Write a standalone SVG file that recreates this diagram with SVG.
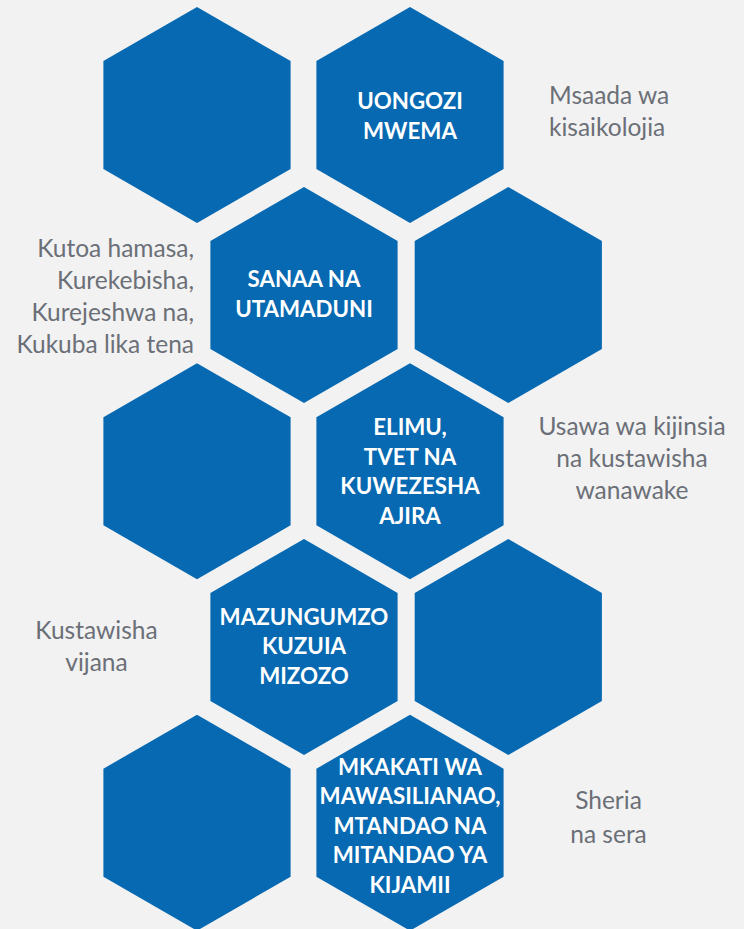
<svg xmlns="http://www.w3.org/2000/svg" width="744" height="929" viewBox="0 0 744 929">
<defs>
<style>
.hex{fill:#0769b1}
.lbl{font-family:Lato,"Open Sans","Liberation Sans",sans-serif;font-weight:700;font-size:22.3px;fill:#ffffff;text-anchor:middle}
.side{font-family:Lato,"Open Sans","Liberation Sans",sans-serif;font-weight:400;font-size:24.5px;fill:#6b6f77}
</style>
<polygon id="h" points="0,-108 93.6,-54 93.6,54 0,108 -93.6,54 -93.6,-54"/>
</defs>
<rect width="744" height="929" fill="#f2f2f2"/>
<g id="hex-r1-left"><use href="#h" class="hex" x="197" y="115"/></g>
<g id="hex-uongozi"><use href="#h" class="hex" x="410" y="115"/>
<text class="lbl"><tspan x="410" y="109">UONGOZI</tspan><tspan x="410" y="139">MWEMA</tspan></text></g>
<g id="hex-sanaa"><use href="#h" class="hex" x="304" y="295"/>
<text class="lbl"><tspan x="304" y="287">SANAA NA</tspan><tspan x="304" y="317">UTAMADUNI</tspan></text></g>
<g id="hex-r2-right"><use href="#h" class="hex" x="508.3" y="295"/></g>
<g id="hex-r3-left"><use href="#h" class="hex" x="197" y="471.3"/></g>
<g id="hex-elimu"><use href="#h" class="hex" x="410" y="471.3"/>
<text class="lbl"><tspan x="410" y="435">ELIMU,</tspan><tspan x="410" y="464.5">TVET NA</tspan><tspan x="410" y="494">KUWEZESHA</tspan><tspan x="410" y="523.5">AJIRA</tspan></text></g>
<g id="hex-mazungumzo"><use href="#h" class="hex" x="304" y="647"/>
<text class="lbl"><tspan x="304" y="624.5">MAZUNGUMZO</tspan><tspan x="304" y="654">KUZUIA</tspan><tspan x="304" y="683.5">MIZOZO</tspan></text></g>
<g id="hex-r4-right"><use href="#h" class="hex" x="508.3" y="647"/></g>
<g id="hex-r5-left"><use href="#h" class="hex" x="197" y="822.7"/></g>
<g id="hex-mkakati"><use href="#h" class="hex" x="410" y="822.7"/>
<text class="lbl"><tspan x="410" y="775">MKAKATI WA</tspan><tspan x="410" y="804.3">MAWASILIANAO,</tspan><tspan x="410" y="833.6">MTANDAO NA</tspan><tspan x="410" y="863">MITANDAO YA</tspan><tspan x="410" y="892.5">KIJAMII</tspan></text></g>
<g id="notes">
<text class="side"><tspan x="549" y="103.5">Msaada wa</tspan><tspan x="549" y="135.5">kisaikolojia</tspan></text>
<text class="side" text-anchor="end"><tspan x="194" y="257">Kutoa hamasa,</tspan><tspan x="194" y="289">Kurekebisha,</tspan><tspan x="194" y="321">Kurejeshwa na,</tspan><tspan x="194" y="353">Kukuba lika tena</tspan></text>
<text class="side" text-anchor="middle"><tspan x="632" y="435">Usawa wa kijinsia</tspan><tspan x="632" y="467">na kustawisha</tspan><tspan x="632" y="499">wanawake</tspan></text>
<text class="side" text-anchor="middle"><tspan x="96.5" y="638.5">Kustawisha</tspan><tspan x="96.5" y="670.5">vijana</tspan></text>
<text class="side" text-anchor="middle"><tspan x="608.5" y="809">Sheria</tspan><tspan x="608.5" y="842.5">na sera</tspan></text>
</g>
</svg>
